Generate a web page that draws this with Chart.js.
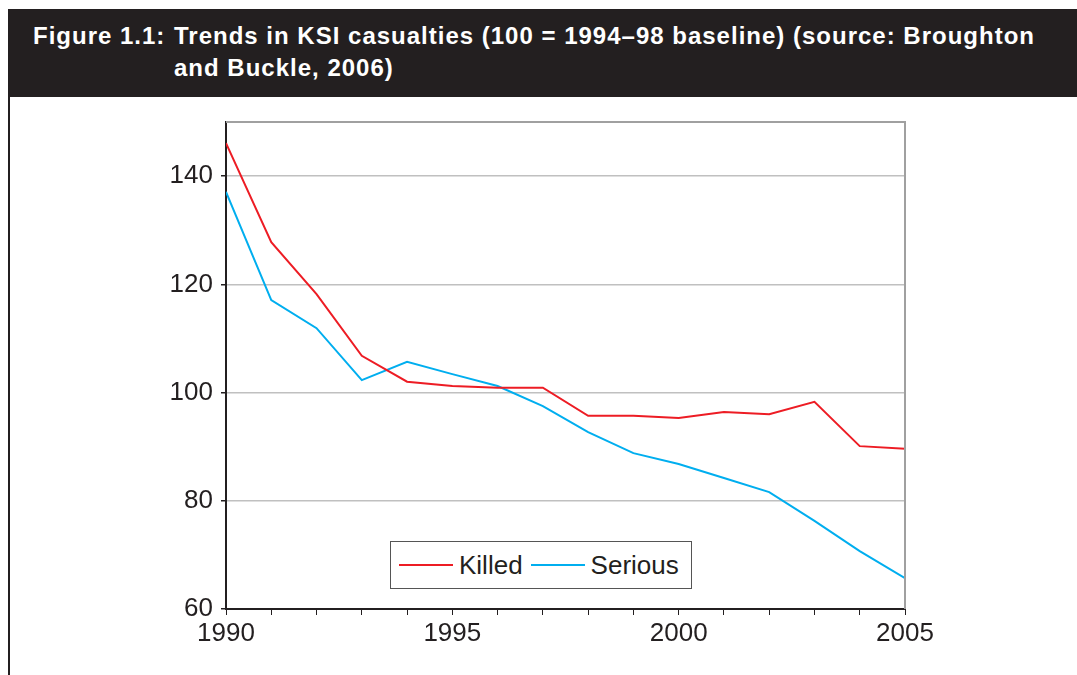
<!DOCTYPE html>
<html>
<head>
<meta charset="utf-8">
<script src="https://cdn.jsdelivr.net/npm/chart.js@4"></script>
<style>
  body { margin: 0; background: #fff; }
  #wrap { position: relative; width: 1077px; height: 675px; overflow: hidden; font-family: "Liberation Sans", Arial, sans-serif; }
  #header { position: absolute; left: 8px; top: 9px; width: 1069px; height: 88px; background: #231f20; color: #fff; font-weight: bold; font-size: 24px; letter-spacing: 1px; line-height: 32px; }
  #header .fig { position: absolute; left: 25px; top: 11px; }
  #header .txt { position: absolute; left: 166px; top: 11px; white-space: nowrap; }
  #rule { position: absolute; left: 8px; top: 97px; width: 2px; height: 578px; background: #231f20; }
  #chart { position: absolute; left: 0; top: 0; }
  #legend { position: absolute; left: 390px; top: 541px; width: 302px; height: 48px; border: 1px solid #555; background: #fff; display: flex; align-items: center; box-sizing: border-box; padding-left: 8px; font-size: 26px; color: #231f20; }
  #legend .item { display: flex; align-items: center; margin-right: 8px; }
  #legend .sw { width: 54px; height: 2px; margin-right: 6px; }
</style>
</head>
<body>
<div id="wrap">
  <div id="header">
    <span class="fig">Figure 1.1:</span>
    <span class="txt">Trends in KSI casualties (100 = 1994–98 baseline) (source: Broughton<br>and Buckle, 2006)</span>
  </div>
  <div id="rule"></div>
  <canvas id="chart" width="1077" height="675"></canvas>
  <div id="legend"></div>
</div>
<script>
const years = [1990, 1991, 1992, 1993, 1994, 1995, 1996, 1997, 1998, 1999, 2000, 2001, 2002, 2003, 2004, 2005];
const killed = [146.1, 127.8, 118.2, 106.8, 102, 101.2, 100.9, 100.9, 95.7, 95.7, 95.3, 96.4, 96, 98.3, 90.1, 89.6];
const serious = [137.1, 117.1, 111.9, 102.3, 105.7, 103.4, 101.2, 97.5, 92.7, 88.8, 86.8, 84.2, 81.6, 76.3, 70.7, 65.7];
const seriesNames = ['Killed', 'Serious'];
const seriesColors = ['#ed1c24', '#00aeef'];

const toPoints = vals => vals.map((v, i) => ({ x: years[i], y: v }));

const plotFrame = {
  id: 'plotFrame',
  afterDraw(chart) {
    const a = chart.chartArea;
    const c = chart.ctx;
    c.save();
    c.strokeStyle = '#a0a0a0';
    c.lineWidth = 2;
    c.beginPath();
    c.moveTo(a.left, a.top);
    c.lineTo(a.right, a.top);
    c.lineTo(a.right, a.bottom);
    c.stroke();
    c.restore();
  }
};

const ctx = document.getElementById('chart').getContext('2d');
const myChart = new Chart(ctx, {
  type: 'line',
  data: {
    datasets: [
      { label: seriesNames[0], data: toPoints(killed), borderColor: seriesColors[0], borderWidth: 2, pointRadius: 0, tension: 0 },
      { label: seriesNames[1], data: toPoints(serious), borderColor: seriesColors[1], borderWidth: 2, pointRadius: 0, tension: 0 }
    ]
  },
  options: {
    responsive: false,
    animation: false,
    layout: { padding: { left: 0, top: 122, right: 172, bottom: 0 } },
    plugins: { legend: { display: false }, tooltip: { enabled: false } },
    scales: {
      x: {
        type: 'linear',
        min: 1990,
        max: 2005,
        afterFit: s => { s.height = 66; },
        ticks: {
          stepSize: 1,
          autoSkip: false,
          maxRotation: 0,
          padding: 3,
          color: '#231f20',
          font: { family: 'Liberation Sans', size: 26 },
          callback: v => (v % 5 === 0 ? String(v) : '')
        },
        grid: { drawOnChartArea: false, tickLength: 6, tickColor: '#231f20', tickWidth: 1 },
        border: { color: '#231f20', width: 2 }
      },
      y: {
        min: 60,
        max: 150,
        afterFit: s => { s.width = 226; },
        ticks: {
          stepSize: 20,
          includeBounds: false,
          padding: 8,
          color: '#231f20',
          font: { family: 'Liberation Sans', size: 26 }
        },
        grid: { color: '#c0c0c0', lineWidth: 1.5, tickLength: 5, tickColor: '#231f20' },
        border: { color: '#231f20', width: 2 }
      }
    }
  },
  plugins: [plotFrame]
});

// legend built from the chart's datasets
const legend = document.getElementById('legend');
myChart.data.datasets.forEach(ds => {
  const item = document.createElement('span');
  item.className = 'item';
  const sw = document.createElement('span');
  sw.className = 'sw';
  sw.style.background = ds.borderColor;
  item.appendChild(sw);
  item.appendChild(document.createTextNode(ds.label));
  legend.appendChild(item);
});
</script>
</body>
</html>
